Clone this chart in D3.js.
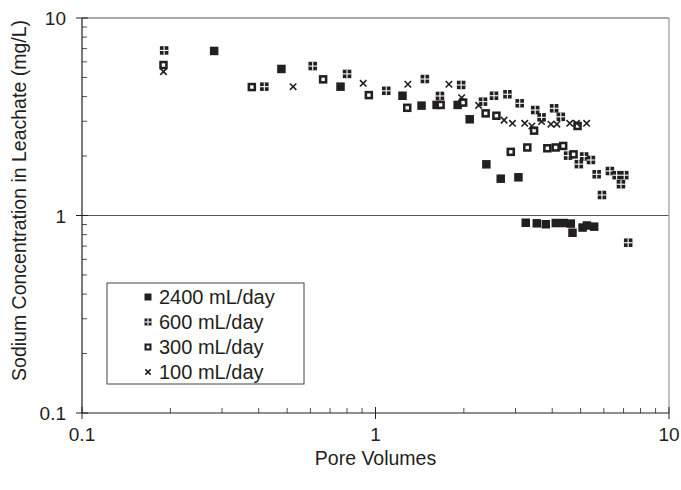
<!DOCTYPE html>
<html>
<head>
<meta charset="utf-8">
<script src="https://cdn.jsdelivr.net/npm/d3@7"></script>
<style>
  body { margin: 0; background: #fff; }
  svg text { font-family: "Liberation Sans", Arial, Helvetica, sans-serif; fill: #231f20; }
</style>
</head>
<body>
<div id="chart"></div>
<script>
// pore volumes / sodium (mg/L)
var x2400 = [0.282, 0.478, 0.760, 1.236, 1.435, 1.615, 1.905, 2.094, 2.386, 2.671, 3.069, 3.25, 3.544, 3.804, 4.114, 4.381, 4.629, 4.69, 5.076, 5.25, 5.56];
var y2400 = [6.81, 5.52, 4.49, 4.04, 3.60, 3.63, 3.63, 3.07, 1.816, 1.536, 1.561, 0.919, 0.913, 0.903, 0.916, 0.916, 0.91, 0.818, 0.869, 0.890, 0.878];

var x600 = [0.1905, 0.418, 0.611, 0.800, 1.088, 1.473, 1.658, 1.958, 2.324, 2.534, 2.815, 3.10, 3.50, 3.68, 4.06, 4.28, 4.53, 4.93, 5.14, 5.42, 5.67, 5.91, 6.29, 6.63, 6.86, 7.04, 7.26];
var y600 = [6.85, 4.49, 5.71, 5.21, 4.28, 4.91, 4.03, 4.58, 3.77, 4.04, 4.11, 3.70, 3.42, 3.14, 3.49, 3.16, 2.01, 1.82, 1.99, 1.91, 1.617, 1.27, 1.68, 1.60, 1.44, 1.60, 0.728];

var x300 = [0.1895, 0.379, 0.663, 0.949, 1.283, 1.667, 1.989, 2.373, 2.582, 2.89, 3.29, 3.47, 3.85, 4.11, 4.36, 4.73, 4.88];
var y300 = [5.78, 4.47, 4.89, 4.07, 3.51, 3.63, 3.73, 3.29, 3.20, 2.10, 2.21, 2.69, 2.19, 2.21, 2.25, 2.04, 2.84];

var x100 = [0.1895, 0.524, 0.908, 1.289, 1.779, 1.966, 2.246, 2.742, 2.929, 3.225, 3.41, 3.68, 3.96, 4.15, 4.59, 4.84, 5.24];
var y100 = [5.35, 4.49, 4.67, 4.62, 4.62, 3.95, 3.61, 3.04, 2.93, 2.93, 2.84, 2.99, 2.90, 2.90, 2.93, 2.93, 2.93];

var seriesNames = ["2400 mL/day", "600 mL/day", "300 mL/day", "100 mL/day"];
var xTicks = [0.1, 1, 10];
var yTicks = [0.1, 1, 10];

var W = 681, H = 490;
var margin = { top: 18, right: 12, bottom: 77, left: 82 },
  width = W - margin.left - margin.right,
  height = H - margin.top - margin.bottom;

var ink = "#231f20";

var svg = d3.select("#chart")
  .append("svg")
  .attr("width", W)
  .attr("height", H)
  .append("g")
  .attr("transform", "translate(" + margin.left + "," + margin.top + ")");

var x = d3.scaleLog().domain([0.1, 10]).range([0, width]);
var y = d3.scaleLog().domain([0.1, 10]).range([height, 0]);

function minorTicks(lo, hi) {
  var out = [];
  for (var d = lo; d < hi; d *= 10)
    for (var k = 2; k <= 9; k++) out.push(d * k);
  return out;
}

// gridlines at the major values
svg.append("g")
  .selectAll("line")
  .data(yTicks.slice(1))
  .join("line")
  .attr("x1", 0).attr("x2", width)
  .attr("y1", d => y(d)).attr("y2", d => y(d))
  .attr("stroke", "#555").attr("stroke-width", 1.2);

// right border
svg.append("line")
  .attr("x1", width).attr("x2", width)
  .attr("y1", 0).attr("y2", height)
  .attr("stroke", "#999").attr("stroke-width", 1.2);

// x axis
var xg = svg.append("g").attr("transform", "translate(0," + height + ")");
xg.append("line").attr("x1", 0).attr("x2", width).attr("stroke", ink).attr("stroke-width", 1.2);
xg.selectAll(".mn").data(minorTicks(0.1, 10)).join("line")
  .attr("x1", d => x(d)).attr("x2", d => x(d))
  .attr("y1", 0).attr("y2", -5).attr("stroke", ink).attr("stroke-width", 0.8);
xg.selectAll(".mj").data(xTicks).join("line")
  .attr("x1", d => x(d)).attr("x2", d => x(d))
  .attr("y1", -6).attr("y2", 6).attr("stroke", ink).attr("stroke-width", 1);
xg.selectAll("text").data(xTicks).join("text")
  .attr("x", d => x(d)).attr("y", 28)
  .attr("text-anchor", "middle")
  .attr("font-size", 19)
  .text(d => d3.format("~g")(d));

// y axis
var yg = svg.append("g");
yg.append("line").attr("y1", 0).attr("y2", height).attr("stroke", ink).attr("stroke-width", 1.2);
yg.selectAll(".mn").data(minorTicks(0.1, 10)).join("line")
  .attr("y1", d => y(d)).attr("y2", d => y(d))
  .attr("x1", 0).attr("x2", 5).attr("stroke", ink).attr("stroke-width", 0.8);
yg.selectAll(".mj").data(yTicks).join("line")
  .attr("y1", d => y(d)).attr("y2", d => y(d))
  .attr("x1", -6).attr("x2", 6).attr("stroke", ink).attr("stroke-width", 1);
yg.selectAll("text").data(yTicks).join("text")
  .attr("x", -16).attr("y", d => y(d) + 7)
  .attr("text-anchor", "end")
  .attr("font-size", 19)
  .text(d => d3.format("~g")(d));

// axis titles
svg.append("text")
  .attr("x", width / 2).attr("y", height + 52)
  .attr("text-anchor", "middle").attr("font-size", 19.5)
  .text("Pore Volumes");
svg.append("text")
  .attr("transform", "translate(" + (-56) + "," + (height / 2 - 15) + ") rotate(-90)")
  .attr("text-anchor", "middle").attr("font-size", 19.5)
  .text("Sodium Concentration in Leachate (mg/L)");

// marker shapes
function drawMarker(g, type, s) {
  if (type === 0) {
    g.append("rect").attr("x", -s / 2).attr("y", -s / 2).attr("width", s).attr("height", s).attr("fill", ink);
  } else if (type === 1) {
    g.append("rect").attr("x", -s / 2).attr("y", -s / 2).attr("width", s).attr("height", s).attr("fill", ink);
    g.append("line").attr("x1", -s / 2).attr("x2", s / 2).attr("stroke", "#fff").attr("stroke-width", 1.1);
    g.append("line").attr("y1", -s / 2).attr("y2", s / 2).attr("stroke", "#fff").attr("stroke-width", 1.1);
  } else if (type === 2) {
    var t = s * 0.3;
    g.append("rect").attr("x", -s / 2 + t / 2).attr("y", -s / 2 + t / 2)
      .attr("width", s - t).attr("height", s - t)
      .attr("fill", "#fff").attr("stroke", ink).attr("stroke-width", t);
  } else {
    var r = s * 0.38;
    g.append("path").attr("d", "M" + -r + "," + -r + "L" + r + "," + r + "M" + -r + "," + r + "L" + r + "," + -r)
      .attr("stroke", ink).attr("stroke-width", 1.6).attr("fill", "none");
  }
}

var series = [
  { xs: x2400, ys: y2400, type: 0 },
  { xs: x600, ys: y600, type: 1 },
  { xs: x300, ys: y300, type: 2 },
  { xs: x100, ys: y100, type: 3 }
];

series.forEach(function (s) {
  var pts = s.xs.map((v, i) => ({ x: v, y: s.ys[i] }));
  svg.append("g")
    .selectAll("g")
    .data(pts)
    .join("g")
    .attr("transform", d => "translate(" + x(d.x) + "," + y(d.y) + ")")
    .each(function () { drawMarker(d3.select(this), s.type, 8.5); });
});

// legend
var lg = svg.append("g").attr("transform", "translate(" + (107 - margin.left) + "," + (283 - margin.top) + ")");
lg.append("rect").attr("width", 197).attr("height", 101)
  .attr("fill", "#fff").attr("stroke", "#444").attr("stroke-width", 1);
seriesNames.forEach(function (name, i) {
  var row = lg.append("g").attr("transform", "translate(0," + (14 + i * 25) + ")");
  drawMarker(row.append("g").attr("transform", "translate(41,0)"), i, 7);
  row.append("text").attr("x", 52).attr("y", 7).attr("font-size", 20).text(name);
});
</script>
</body>
</html>
